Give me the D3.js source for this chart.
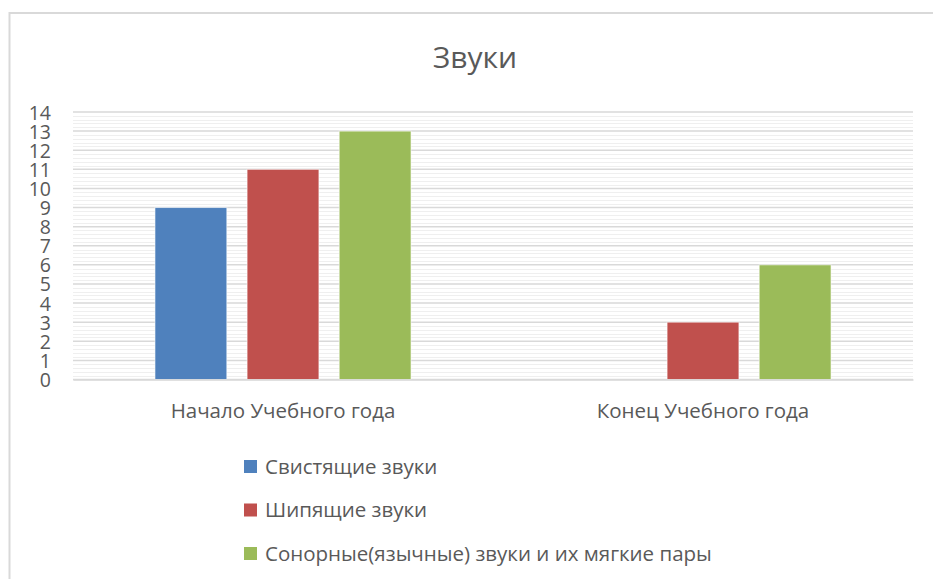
<!DOCTYPE html>
<html>
<head>
<meta charset="utf-8">
<script src="https://cdn.jsdelivr.net/npm/d3@7"></script>
<style>
  body { margin: 0; background: #fff; }
  text { font-family: "Open Sans", "Noto Sans", sans-serif; fill: #595959; }
</style>
</head>
<body>
<div id="chart"></div>
<script>
// data
var categories = ["Начало Учебного года", "Конец Учебного года"];
var seriesNames = ["Свистящие звуки", "Шипящие звуки", "Сонорные(язычные) звуки и их мягкие пары"];
var seriesColors = ["#4f81bd", "#c0504d", "#9bbb59"];
var svistyashchie = [9, 0];
var shipyashchie = [11, 3];
var sonornye = [13, 6];
var yTicks = [0, 1, 2, 3, 4, 5, 6, 7, 8, 9, 10, 11, 12, 13, 14];

var seriesValues = [svistyashchie, shipyashchie, sonornye];

var width = 933, height = 579;
var plot = { left: 73, right: 913, top: 112, bottom: 379.5 };

var svg = d3.select("#chart")
    .append("svg")
    .attr("width", width)
    .attr("height", height);

// chart frame (cut off at right and bottom)
svg.append("rect")
    .attr("x", 9.5)
    .attr("y", 13)
    .attr("width", 1000)
    .attr("height", 1000)
    .attr("fill", "none")
    .attr("stroke", "#d9d9d9")
    .attr("stroke-width", 2);

svg.append("text")
    .attr("x", 475)
    .attr("y", 68)
    .attr("text-anchor", "middle")
    .style("font-size", "30px")
    .text("Звуки");

var y = d3.scaleLinear()
    .domain([0, 14])
    .range([plot.bottom, plot.top]);

var x0 = d3.scaleBand()
    .domain(categories)
    .range([plot.left, plot.right]);

var x1 = d3.scaleBand()
    .domain(seriesNames)
    .range([0, x0.bandwidth()])
    .paddingInner(0.22)
    .paddingOuter(0.89);

// minor gridlines every 0.2
svg.append("g")
    .selectAll("line")
    .data(d3.range(1, 70).map(function(i) { return i / 5; }).filter(function(v) { return v % 1 !== 0; }))
    .enter()
    .append("line")
    .attr("x1", plot.left)
    .attr("x2", plot.right)
    .attr("y1", function(d) { return Math.round(y(d)) + 0.5; })
    .attr("y2", function(d) { return Math.round(y(d)) + 0.5; })
    .attr("stroke", "#efefef")
    .attr("stroke-width", 1);

// major gridlines
svg.append("g")
    .selectAll("line")
    .data(yTicks)
    .enter()
    .append("line")
    .attr("x1", plot.left)
    .attr("x2", plot.right)
    .attr("y1", function(d) { return y(d); })
    .attr("y2", function(d) { return y(d); })
    .attr("stroke", "#d9d9d9")
    .attr("stroke-width", 1.5);

var yAxis = svg.append("g")
    .attr("transform", "translate(" + (plot.left - 20) + ",0)")
    .call(d3.axisLeft(y).tickValues(yTicks).tickSize(0).tickPadding(2));
yAxis.select(".domain").remove();
yAxis.selectAll("text")
    .style("font-size", "19.5px")
    .attr("dy", "0.36em")
    .attr("fill", "#595959");

var groups = svg.append("g")
    .selectAll("g")
    .data(categories)
    .enter()
    .append("g")
    .attr("transform", function(d) { return "translate(" + x0(d) + ",0)"; });

groups.selectAll("rect")
    .data(function(d, ci) {
        return seriesNames.map(function(name, si) {
            return { name: name, value: seriesValues[si][ci], color: seriesColors[si] };
        });
    })
    .enter()
    .append("rect")
    .attr("x", function(d) { return x1(d.name); })
    .attr("width", x1.bandwidth())
    .attr("y", function(d) { return y(d.value); })
    .attr("height", function(d) { return y(0) - y(d.value); })
    .attr("fill", function(d) { return d.color; })
    .attr("stroke", "#fff")
    .attr("stroke-opacity", function(d) { return d.value > 0 ? 0.6 : 0; })
    .attr("stroke-width", 1);

var xAxis = svg.append("g")
    .attr("transform", "translate(0," + plot.bottom + ")")
    .call(d3.axisBottom(x0).tickSize(0).tickPadding(24));
xAxis.select(".domain").attr("stroke", "#d9d9d9").attr("stroke-width", 1.5);
xAxis.selectAll("text")
    .style("font-size", "20.5px")
    .attr("fill", "#595959");

// legend
var legend = svg.append("g")
    .selectAll("g")
    .data(seriesNames)
    .enter()
    .append("g")
    .attr("transform", function(d, i) { return "translate(244," + (466.5 + i * 43.5) + ")"; });

legend.append("rect")
    .attr("x", 0)
    .attr("y", -6.5)
    .attr("width", 13)
    .attr("height", 13)
    .attr("fill", function(d, i) { return seriesColors[i]; });

legend.append("text")
    .attr("x", 21)
    .attr("y", 0)
    .attr("dy", "0.36em")
    .style("font-size", "20.5px")
    .text(function(d) { return d; });
</script>
</body>
</html>
